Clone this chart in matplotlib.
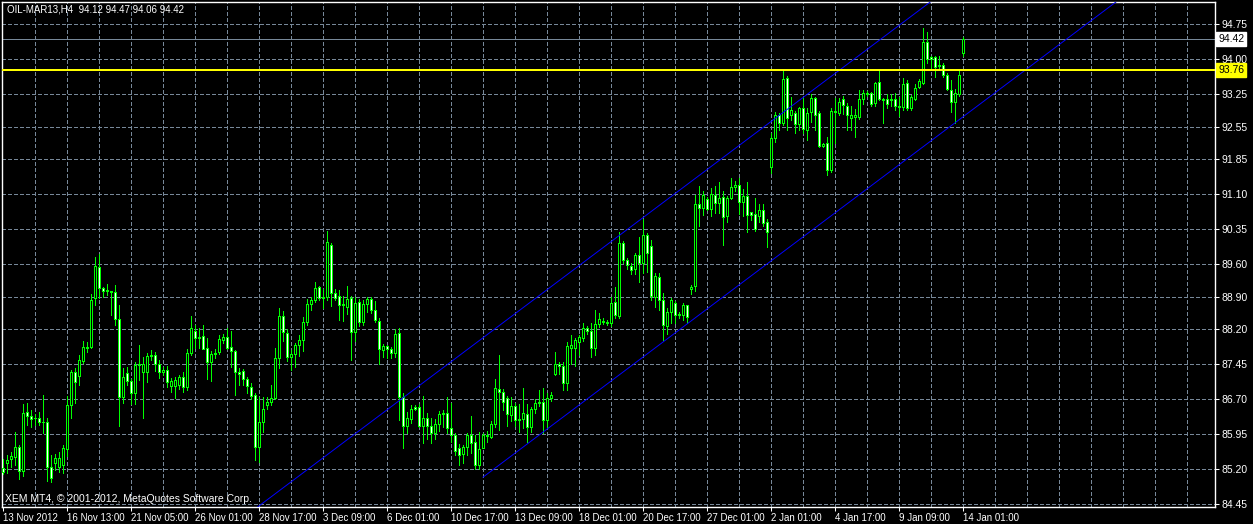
import numpy as np
import matplotlib
matplotlib.use('Agg')
import matplotlib.pyplot as plt
import matplotlib.transforms as mtransforms

plt.rcParams['font.family'] = ['Liberation Sans', 'DejaVu Sans']

# OIL-MAR13 H4 bars (one per 4 hours)
opens = [85.22, 85.33, 85.42, 85.46, 85.67, 85.16, 86.42, 86.35, 86.29, 86.30,
         86.21, 86.22, 85.24, 85.33, 85.24, 85.30, 85.63, 86.57, 87.29, 87.20,
         87.52, 87.80, 87.82, 88.87, 89.53, 89.08, 89.02, 89.03, 89.00, 88.42,
         86.75, 87.26, 87.09, 86.83, 87.43, 87.28, 87.28, 87.62, 87.64, 87.45,
         87.28, 87.32, 86.98, 86.98, 87.00, 87.17, 86.96, 87.69, 88.16, 88.01,
         88.05, 87.79, 87.50, 87.67, 87.72, 87.97, 88.03, 87.82, 87.73, 87.28,
         87.30, 87.13, 86.96, 86.79, 85.67, 86.21, 86.57, 86.64, 86.73, 87.58,
         88.48, 88.12, 87.60, 87.67, 87.86, 87.97, 88.35, 88.74, 88.83, 89.10,
         88.87, 88.89, 90.01, 88.98, 88.91, 88.72, 88.68, 88.87, 88.14, 88.78,
         88.35, 88.74, 88.85, 88.61, 88.38, 87.76, 87.84, 87.78, 87.69, 88.12,
         86.75, 86.12, 86.27, 86.53, 86.53, 86.12, 86.30, 86.12, 85.97, 86.17,
         86.38, 86.40, 86.08, 85.93, 85.65, 85.52, 85.67, 85.93, 85.78, 85.29,
         85.65, 85.93, 85.89, 86.17, 86.92, 86.85, 86.73, 86.36, 86.55, 86.25,
         86.27, 86.38, 86.10, 86.49, 86.62, 86.64, 86.25, 86.73, 87.24, 87.45,
         87.41, 87.05, 87.80, 87.80, 87.92, 88.01, 88.23, 88.16, 87.80, 88.31,
         88.38, 88.35, 88.33, 88.78, 88.48, 90.05, 89.69, 89.56, 89.49, 89.79,
         89.62, 90.22, 89.99, 88.89, 89.32, 88.83, 88.27, 88.57, 88.76, 88.51,
         88.51, 88.72, 89.06, 89.13, 90.89, 90.80, 91.00, 90.78, 91.08, 90.91,
         91.04, 90.63, 91.02, 91.25, 91.30, 90.93, 91.06, 90.72, 90.67, 90.63,
         90.76, 90.50, 91.68, 92.30, 92.80, 92.63, 93.59, 92.80, 92.84, 92.60,
         92.95, 92.48, 92.86, 93.16, 92.84, 92.13, 92.20, 91.62, 92.88, 92.84,
         93.14, 92.99, 92.73, 92.75, 92.75, 93.14, 93.27, 93.27, 93.05, 93.50,
         93.14, 93.14, 93.14, 93.14, 92.99, 92.97, 93.48, 92.95, 93.14, 93.40,
         93.48, 94.36, 94.04, 94.04, 93.85, 93.87, 93.65, 93.33, 93.07, 93.25,
         94.12]
highs = [85.42, 85.50, 85.57, 86.00, 85.72, 86.60, 86.62, 86.47, 86.38, 86.43,
         86.80, 86.30, 85.50, 85.52, 85.56, 85.73, 86.76, 87.33, 87.37, 87.65,
         87.95, 87.92, 88.95, 89.75, 89.81, 89.10, 89.17, 89.03, 89.15, 88.72,
         87.37, 87.40, 87.13, 87.50, 87.87, 87.60, 87.70, 87.75, 87.72, 87.55,
         87.40, 87.42, 87.15, 87.17, 87.22, 87.28, 87.77, 88.48, 88.30, 88.23,
         88.30, 88.01, 87.74, 87.78, 88.08, 88.10, 88.23, 88.16, 87.75, 87.37,
         87.35, 87.18, 87.05, 86.83, 86.75, 86.75, 86.75, 87.00, 87.80, 88.65,
         88.60, 88.20, 87.75, 87.90, 88.08, 88.46, 88.86, 88.90, 89.22, 89.13,
         89.06, 90.31, 90.05, 89.06, 89.04, 88.91, 89.12, 88.91, 88.89, 88.85,
         88.83, 88.89, 88.89, 88.80, 88.44, 87.88, 87.86, 87.82, 88.20, 88.23,
         86.83, 86.43, 86.58, 86.58, 86.60, 86.77, 86.40, 86.30, 86.27, 86.45,
         86.47, 86.75, 86.62, 85.97, 85.74, 85.72, 85.97, 86.34, 85.93, 85.99,
         85.97, 86.03, 86.23, 87.13, 87.65, 86.92, 86.77, 86.75, 86.62, 86.60,
         86.94, 86.60, 86.53, 86.70, 86.90, 86.94, 86.83, 86.85, 87.71, 87.50,
         87.50, 87.93, 88.08, 88.01, 88.08, 88.33, 88.27, 88.33, 88.61, 88.55,
         88.44, 88.40, 88.89, 89.10, 90.29, 90.09, 89.74, 89.63, 89.84, 90.18,
         90.56, 90.26, 90.12, 89.41, 89.41, 88.97, 88.65, 88.87, 88.80, 88.57,
         88.76, 88.72, 89.15, 91.08, 91.27, 91.17, 91.04, 91.23, 91.27, 91.36,
         91.17, 91.06, 91.45, 91.38, 91.45, 91.21, 91.36, 90.72, 91.02, 90.89,
         90.89, 90.56, 92.41, 92.86, 92.84, 93.76, 93.63, 93.18, 92.88, 92.97,
         93.16, 92.95, 93.25, 93.18, 92.88, 92.20, 92.33, 92.95, 93.16, 93.16,
         93.20, 93.05, 92.99, 92.93, 93.33, 93.33, 93.31, 93.29, 93.50, 93.74,
         93.16, 93.24, 93.24, 93.27, 93.18, 93.59, 93.55, 93.22, 93.46, 93.57,
         94.66, 94.58, 94.06, 94.06, 94.06, 93.91, 93.70, 93.55, 93.35, 93.74,
         94.47]
lows = [85.10, 85.11, 85.24, 85.29, 85.00, 85.05, 86.15, 86.11, 86.14, 86.14,
        85.98, 84.95, 84.92, 85.18, 85.14, 85.12, 85.48, 86.30, 86.62, 87.00,
        87.48, 87.72, 87.80, 88.72, 88.88, 88.90, 88.93, 88.50, 88.30, 86.12,
        86.62, 87.00, 86.60, 86.60, 87.11, 86.30, 87.06, 87.55, 87.30, 87.15,
        87.22, 86.96, 86.85, 86.72, 86.92, 86.85, 86.90, 87.65, 87.79, 87.79,
        87.77, 87.14, 87.10, 87.58, 87.67, 87.90, 87.77, 87.39, 86.79, 87.00,
        87.00, 86.83, 86.70, 85.39, 85.35, 86.00, 86.49, 86.58, 86.70, 87.37,
        87.95, 87.52, 87.33, 87.40, 87.63, 87.73, 88.30, 88.62, 88.78, 88.82,
        88.65, 88.83, 88.70, 88.83, 88.40, 88.38, 88.52, 87.54, 87.95, 88.28,
        88.30, 88.57, 88.55, 88.35, 87.45, 87.60, 87.58, 87.58, 87.60, 86.25,
        85.65, 85.97, 86.20, 86.47, 86.10, 85.76, 85.85, 85.76, 85.85, 86.03,
        86.10, 85.97, 85.78, 85.50, 85.28, 85.33, 85.50, 85.54, 85.20, 85.20,
        85.65, 85.78, 85.86, 86.10, 86.04, 86.47, 86.12, 86.23, 86.12, 86.00,
        86.08, 85.78, 86.00, 86.40, 86.55, 85.97, 86.10, 86.66, 87.22, 87.24,
        86.90, 86.90, 87.45, 87.41, 87.65, 87.95, 88.10, 87.60, 87.65, 88.25,
        88.31, 88.29, 88.27, 88.44, 88.44, 89.63, 89.50, 89.39, 89.39, 89.21,
        89.41, 89.43, 88.83, 88.68, 88.62, 87.97, 88.10, 88.33, 88.33, 88.44,
        88.40, 88.33, 88.95, 89.02, 90.41, 90.65, 90.76, 90.63, 90.70, 90.70,
        90.01, 90.50, 91.00, 91.17, 90.67, 90.63, 90.29, 90.54, 90.31, 90.50,
        90.41, 89.97, 91.55, 92.22, 92.48, 92.58, 92.48, 92.69, 92.41, 92.48,
        92.41, 92.26, 92.65, 92.48, 92.11, 92.11, 91.51, 91.58, 92.20, 92.80,
        92.82, 92.48, 92.48, 92.33, 92.71, 93.03, 93.20, 92.99, 92.99, 93.12,
        92.63, 92.95, 92.99, 92.90, 92.78, 92.90, 92.90, 92.90, 93.12, 93.37,
        93.46, 93.91, 93.78, 93.61, 93.78, 93.61, 93.33, 92.86, 92.63, 93.20,
        94.06]
closes = [85.15, 85.39, 85.48, 85.67, 85.16, 86.40, 86.35, 86.28, 86.30, 86.21,
          86.22, 85.24, 85.01, 85.44, 85.44, 85.65, 86.57, 87.29, 87.07, 87.54,
          87.82, 87.83, 88.83, 89.56, 89.08, 89.02, 89.05, 89.00, 88.42, 86.75,
          87.17, 87.09, 86.83, 87.43, 87.45, 87.45, 87.62, 87.65, 87.45, 87.28,
          87.32, 87.07, 87.09, 87.11, 87.17, 86.96, 87.69, 88.23, 88.01, 88.03,
          87.77, 87.50, 87.67, 87.70, 87.99, 88.03, 87.80, 87.73, 87.28, 87.24,
          87.13, 86.98, 86.77, 85.67, 86.21, 86.49, 86.64, 86.73, 87.58, 88.48,
          88.14, 87.60, 87.67, 87.86, 87.97, 88.35, 88.74, 88.83, 89.08, 88.87,
          88.89, 90.07, 88.98, 88.87, 88.72, 88.74, 88.85, 88.14, 88.76, 88.35,
          88.74, 88.85, 88.61, 88.40, 87.78, 87.84, 87.78, 87.70, 88.10, 86.75,
          86.12, 86.30, 86.49, 86.49, 86.12, 86.30, 86.12, 85.97, 86.17, 86.38,
          86.40, 86.08, 85.93, 85.60, 85.50, 85.67, 85.93, 85.76, 85.29, 85.63,
          85.93, 85.91, 86.17, 86.94, 86.85, 86.64, 86.38, 86.55, 86.25, 86.28,
          86.40, 86.10, 86.49, 86.62, 86.64, 86.25, 86.73, 86.79, 87.45, 87.41,
          87.05, 87.84, 87.86, 87.97, 88.03, 88.23, 88.16, 87.80, 88.31, 88.42,
          88.35, 88.33, 88.76, 88.51, 90.05, 89.69, 89.58, 89.48, 89.79, 89.62,
          90.22, 89.84, 88.91, 89.34, 88.83, 88.29, 88.57, 88.83, 88.51, 88.53,
          88.72, 88.46, 89.10, 90.89, 90.80, 91.08, 90.78, 91.10, 90.91, 91.02,
          90.61, 91.02, 91.25, 91.30, 90.93, 91.06, 90.65, 90.65, 90.35, 90.76,
          90.48, 90.29, 92.30, 92.80, 92.63, 93.57, 92.73, 92.90, 92.60, 92.95,
          92.50, 92.84, 93.16, 92.80, 92.13, 92.17, 91.62, 92.88, 92.86, 93.07,
          93.01, 92.80, 92.80, 92.80, 93.14, 93.27, 93.25, 93.03, 93.48, 93.14,
          93.12, 93.03, 93.12, 92.99, 92.97, 93.46, 92.95, 93.18, 93.37, 93.53,
          94.36, 94.00, 94.00, 93.83, 93.87, 93.65, 93.35, 93.07, 93.27, 93.65,
          94.42]

date_labels = ['13 Nov 2012', '16 Nov 13:00', '21 Nov 05:00', '26 Nov 01:00',
               '28 Nov 17:00', '3 Dec 09:00', '6 Dec 01:00', '10 Dec 17:00',
               '13 Dec 09:00', '18 Dec 01:00', '20 Dec 17:00', '27 Dec 01:00',
               '2 Jan 01:00', '4 Jan 17:00', '9 Jan 09:00', '14 Jan 01:00']
price_ticks = [94.75, 94.00, 93.25, 92.55, 91.85, 91.10, 90.35, 89.60,
               88.90, 88.20, 87.45, 86.70, 85.95, 85.20, 84.45]
bid_price = 94.42
level_price = 93.76

# equidistant channel: lower line anchors (bar, price) and channel width
chan_a = (120, 85.03)
chan_b = (244, 93.02)
chan_width = 2.99

GRID = '#778899'
LIME = '#00ff00'
THIN = 0.5  # one pixel when drawn without antialiasing

fig = plt.figure(figsize=(12.53, 5.24), dpi=100, facecolor='black')
ax = fig.add_axes([2 / 1253, 17 / 524, 1213 / 1253, 505 / 524])
ax.set_facecolor('black')

n = len(closes)
x = np.arange(n)
o = np.array(opens)
c = np.array(closes)

# grid
for p in price_ticks:
    ax.axhline(p, color=GRID, lw=THIN, ls=(0, (5, 4)), antialiased=False, zorder=1)
for b in range(8, 300, 8):
    ax.axvline(b, color=GRID, lw=THIN, ls=(0, (5, 4)), antialiased=False, zorder=1)

# candles
ax.vlines(x, lows, highs, color=LIME, lw=THIN, antialiased=False, zorder=3)
fills = np.where(c >= o, 'black', 'white')
ax.bar(x, np.abs(c - o), bottom=np.minimum(o, c), width=0.5,
       color=fills, edgecolor=LIME, linewidth=THIN, antialiased=False, zorder=4)

# channel lines
slope = (chan_b[1] - chan_a[1]) / (chan_b[0] - chan_a[0])
xe = 330
ax.plot([chan_a[0], xe], [chan_a[1], chan_a[1] + slope * (xe - chan_a[0])],
        color='#0000ff', lw=0.7, zorder=5)
xs = 50
ax.plot([xs, xe], [chan_a[1] + chan_width + slope * (xs - chan_a[0]),
                   chan_a[1] + chan_width + slope * (xe - chan_a[0])],
        color='#0000ff', lw=0.7, zorder=5)

# horizontal lines
ax.axhline(bid_price, color=GRID, lw=THIN, antialiased=False, zorder=2)
ax.axhline(level_price, color='#ffff00', lw=1.3, antialiased=False, zorder=6)

ax.set_xlim(-0.2, 302.9)
ax.set_ylim(84.39, 95.22)

for s in ax.spines.values():
    s.set_color('white')
    s.set_linewidth(1)

ax.yaxis.tick_right()
ax.set_yticks(price_ticks, ['%.2f' % p for p in price_ticks])
ax.tick_params(axis='y', colors='white', length=3, width=0.75, pad=2, labelsize=7.5)
ax.set_xticks(np.arange(0, n, 16), date_labels)
ax.tick_params(axis='x', colors='white', length=3, width=0.75, pad=1.5, labelsize=7)
for lbl in ax.get_xticklabels():
    lbl.set_horizontalalignment('left')

# price boxes on the scale
tr = mtransforms.blended_transform_factory(ax.transAxes, ax.transData)
ax.text(1.0025, bid_price, '%.2f' % bid_price, transform=tr, fontsize=7.5, color='black',
        va='center', ha='left', zorder=10,
        bbox=dict(boxstyle='square,pad=0.2', fc='white', ec='white'))
ax.text(1.0025, level_price, '%.2f' % level_price, transform=tr, fontsize=7.5, color='black',
        va='center', ha='left', zorder=10,
        bbox=dict(boxstyle='square,pad=0.2', fc='#ffff00', ec='#ffff00'))

fig.text(7 / 1253, 1 - 10 / 524, 'OIL-MAR13,H4  94.12 94.47 94.06 94.42',
         color='white', fontsize=7, va='center', ha='left')
ax.text(3 / 1213, 8 / 505, 'XEM MT4, \u00a9 2001-2012, MetaQuotes Software Corp.',
        transform=ax.transAxes, color='white', fontsize=7.5, va='center', ha='left', zorder=10)

fig.savefig('out.png', dpi=100, facecolor='black')
